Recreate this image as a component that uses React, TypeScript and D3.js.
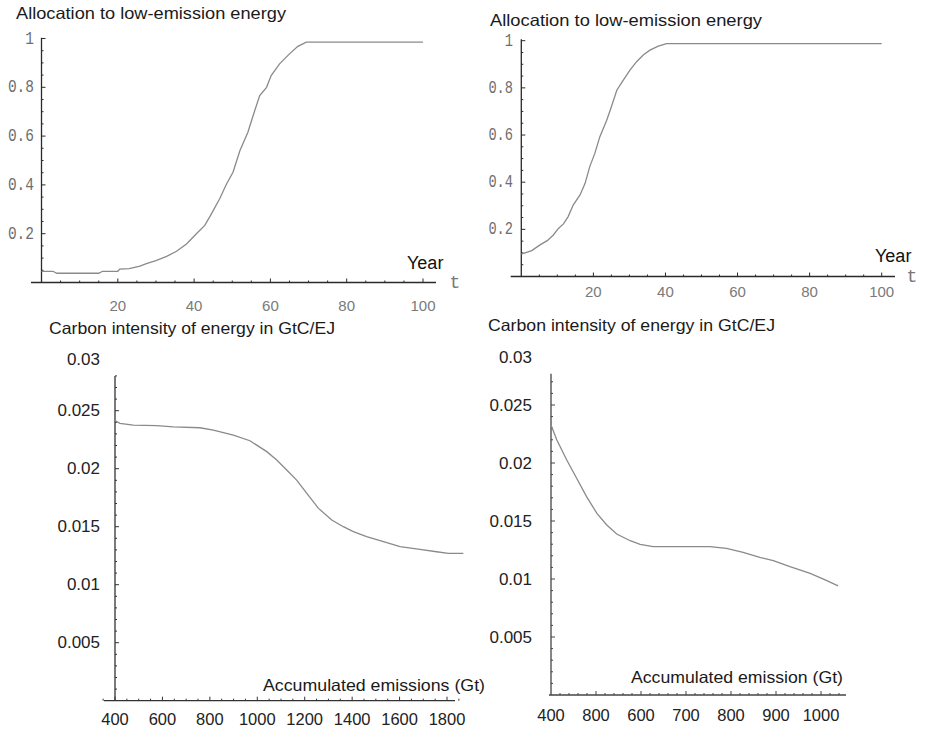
import React from 'react';
import * as d3 from 'd3';

// allocation to low-emission energy, scenario A (left) and B (right)
const allocYearsA = [0, 3, 4, 15, 16, 20, 20.5, 23, 25.8, 27.5, 30, 32.8, 35.4, 38, 40.6, 42.8, 44.5, 46.7, 48.5, 50.2, 52, 54.1, 55.9, 57.2, 59, 60.2, 62.4, 65, 67.2, 69.4, 100];
const allocShareA = [0.046, 0.046, 0.038, 0.038, 0.046, 0.046, 0.055, 0.057, 0.067, 0.077, 0.09, 0.107, 0.128, 0.158, 0.2, 0.234, 0.28, 0.343, 0.404, 0.452, 0.54, 0.616, 0.705, 0.766, 0.8, 0.848, 0.896, 0.937, 0.968, 0.985, 0.985];
const allocYearsB = [0, 2.9, 5.2, 7.2, 8.9, 10.3, 11.7, 13, 14.4, 16.3, 17.7, 19, 20.4, 21.8, 23.7, 25, 26.5, 28.3, 30.2, 32, 33.9, 35.7, 38, 40.3, 100];
const allocShareB = [0.095, 0.11, 0.134, 0.152, 0.176, 0.204, 0.223, 0.254, 0.303, 0.346, 0.395, 0.466, 0.522, 0.593, 0.663, 0.72, 0.79, 0.833, 0.876, 0.911, 0.94, 0.96, 0.977, 0.988, 0.988];

// carbon intensity (GtC/EJ) against accumulated emissions (Gt)
const emisA = [400, 421, 477, 576, 646, 758, 815, 899, 969, 1040, 1082, 1124, 1166, 1209, 1258, 1314, 1363, 1405, 1461, 1518, 1602, 1686, 1756, 1806, 1869];
const intensA = [0.02414, 0.02391, 0.02376, 0.02371, 0.0236, 0.02353, 0.02333, 0.0229, 0.02241, 0.02147, 0.02075, 0.01989, 0.01902, 0.01787, 0.01658, 0.01557, 0.015, 0.01457, 0.01414, 0.01379, 0.01328, 0.01305, 0.01284, 0.0127, 0.0127];
const emisB = [400, 413, 435, 457, 479, 502, 524, 546, 576, 598, 627, 664, 753, 790, 827, 864, 894, 931, 976, 1013, 1038];
const intensB = [0.02328, 0.02198, 0.02026, 0.01868, 0.0171, 0.01566, 0.01466, 0.01388, 0.0133, 0.01299, 0.01279, 0.01279, 0.01279, 0.01264, 0.0123, 0.01187, 0.01158, 0.01106, 0.01049, 0.00986, 0.0094];

// tick labels
const yearTicks = [20, 40, 60, 80, 100];
const shareTicks = [0.2, 0.4, 0.6, 0.8, 1];
const emisTicksA = [400, 600, 800, 1000, 1200, 1400, 1600, 1800];
const emisTicksB = [400, 500, 600, 700, 800, 900, 1000];
const emisTickLabelsB = ['400', '800', '600', '700', '800', '900', '1000'];
const intensTicks = [0.005, 0.01, 0.015, 0.02, 0.025, 0.03];

const SANS = 'Liberation Sans, Arial, sans-serif';
const MONO = 'Liberation Mono, Courier New, monospace';

type Props = {
  xs: number[];
  ys: number[];
  xDomain: [number, number];
  xRange: [number, number];
  yDomain: [number, number];
  yRange: [number, number];
  xAxisPx: [number, number];
  yAxisTop: number;
  minorX: [number, number, number];
  majorX: number[];
  minorY: [number, number, number];
  majorY: number[];
  xTicks: number[];
  xTickLabels: string[];
  xLabelY: number;
  xLabelStyle: React.CSSProperties;
  yTicks: number[];
  yTickLabels: string[];
  yLabelX: number;
  yLabelStyle: React.CSSProperties;
  yCharWidth?: number;
  axisColor: string;
  title: string;
  titlePos: [number, number, number];
  children?: React.ReactNode;
};

function Panel(p: Props) {
  const x = d3.scaleLinear().domain(p.xDomain).range(p.xRange);
  const y = d3.scaleLinear().domain(p.yDomain).range(p.yRange);
  const line = d3.line<number>()
    .x((_, i) => x(p.xs[i]))
    .y(d => y(d));
  const y0 = y(0);
  const x0 = x(p.xDomain[0]);
  const minorX = d3.range(p.minorX[0], p.minorX[1] + 1e-9, p.minorX[2]);
  const minorY = d3.range(p.minorY[0], p.minorY[1] + 1e-9, p.minorY[2]);
  const top = y(p.yAxisTop);
  const isMajor = (list: number[], v: number) => list.some(m => Math.abs(m - v) < 1e-9);

  return (
    <g>
      <text x={p.titlePos[0]} y={p.titlePos[1]} fontFamily={SANS} fontSize={16.5} fill="#1a1a1a"
        textLength={p.titlePos[2]} lengthAdjust="spacingAndGlyphs">{p.title}</text>

      {/* axes */}
      <line x1={p.xAxisPx[0]} x2={p.xAxisPx[1]} y1={y0} y2={y0} stroke={p.axisColor} strokeWidth={1.3} />
      <line x1={x0} x2={x0} y1={y0} y2={top} stroke={p.axisColor} strokeWidth={1.3} />

      {minorX.map(v => (
        <line key={'mx' + v} x1={x(v)} x2={x(v)} y1={y0} y2={y0 - (isMajor(p.majorX, v) ? 4 : 2)}
          stroke={p.axisColor} strokeWidth={1} />
      ))}
      {minorY.map(v => (
        <line key={'my' + v} x1={x0} x2={x0 + (isMajor(p.majorY, v) ? 4 : 2)} y1={y(v)} y2={y(v)}
          stroke={p.axisColor} strokeWidth={1} />
      ))}

      {p.xTicks.map((v, i) => (
        <text key={'xl' + i} x={x(v)} y={p.xLabelY} textAnchor="middle" dominantBaseline="central" style={p.xLabelStyle}>
          {p.xTickLabels[i]}
        </text>
      ))}
      {p.yTicks.map((v, i) => {
        const s = p.yTickLabels[i];
        const fit = p.yCharWidth ? { textLength: s.length * p.yCharWidth, lengthAdjust: 'spacingAndGlyphs' } : {};
        return (
          <text key={'yl' + i} x={p.yLabelX} y={Math.max(y(v), top - 16)} textAnchor="end" dominantBaseline="central"
            style={p.yLabelStyle} {...fit}>
            {s}
          </text>
        );
      })}

      <path d={line(p.ys) ?? ''} fill="none" stroke="#8a8a8a" strokeWidth={1.3} />
      {p.children}
    </g>
  );
}

export default function App() {
  const topX: React.CSSProperties = { fontFamily: SANS, fontSize: 15, fill: '#7a7a7a' };
  const topY: React.CSSProperties = { fontFamily: MONO, fontSize: 18, fill: '#6e6e6e' };
  const botX: React.CSSProperties = { fontFamily: SANS, fontSize: 16.5, fill: '#222' };
  const botY: React.CSSProperties = { fontFamily: SANS, fontSize: 17, fill: '#222' };
  const fmt = d3.format('~g');

  return (
    <svg width={925} height={730} style={{ position: 'absolute', left: 0, top: 0, background: '#fff' }}>
      <Panel
        xs={allocYearsA} ys={allocShareA}
        xDomain={[0, 100]} xRange={[41.5, 423]}
        yDomain={[0, 1]} yRange={[282.5, 38.5]}
        xAxisPx={[31, 436]} yAxisTop={1.003}
        minorX={[5, 100, 5]} majorX={yearTicks}
        minorY={[0.05, 1, 0.05]} majorY={shareTicks}
        xTicks={yearTicks} xTickLabels={yearTicks.map(String)} xLabelY={305} xLabelStyle={topX}
        yTicks={shareTicks} yTickLabels={shareTicks.map(fmt)} yLabelX={34} yLabelStyle={topY} yCharWidth={8.7}
        axisColor="#2a2a2a"
        title="Allocation to low-emission energy" titlePos={[16, 18.5, 270]}
      >
        <text x={407} y={268.5} fontFamily={SANS} fontSize={18} fill="#111">Year</text>
        <text x={455} y={283} textAnchor="middle" dominantBaseline="central" fontFamily={MONO} fontSize={18} fill="#777">t</text>
      </Panel>

      <Panel
        xs={allocYearsB} ys={allocShareB}
        xDomain={[0, 100]} xRange={[521.3, 881.7]}
        yDomain={[0, 1]} yRange={[276.5, 40.7]}
        xAxisPx={[510.7, 895]} yAxisTop={1.006}
        minorX={[5, 100, 5]} majorX={yearTicks}
        minorY={[0.05, 1, 0.05]} majorY={shareTicks}
        xTicks={yearTicks} xTickLabels={yearTicks.map(String)} xLabelY={291} xLabelStyle={topX}
        yTicks={shareTicks} yTickLabels={shareTicks.map(fmt)} yLabelX={513} yLabelStyle={topY} yCharWidth={8.2}
        axisColor="#2a2a2a"
        title="Allocation to low-emission energy" titlePos={[490, 26, 272]}
      >
        <text x={875} y={262} fontFamily={SANS} fontSize={18} fill="#111">Year</text>
        <text x={912} y={277} textAnchor="middle" dominantBaseline="central" fontFamily={MONO} fontSize={18} fill="#777">t</text>
      </Panel>

      <Panel
        xs={emisA} ys={intensA}
        xDomain={[400, 1800]} xRange={[115, 447]}
        yDomain={[0, 0.03]} yRange={[700.7, 352.7]}
        xAxisPx={[104, 455]} yAxisTop={0.028}
        minorX={[350, 1850, 50]} majorX={emisTicksA}
        minorY={[0.001, 0.028, 0.001]} majorY={intensTicks}
        xTicks={emisTicksA} xTickLabels={emisTicksA.map(String)} xLabelY={719} xLabelStyle={botX}
        yTicks={intensTicks} yTickLabels={intensTicks.map(fmt)} yLabelX={100} yLabelStyle={botY}
        axisColor="#333"
        title="Carbon intensity of energy in GtC/EJ" titlePos={[49, 334, 286]}
      >
        <text x={263} y={690.5} fontFamily={SANS} fontSize={16.5} fill="#1a1a1a" textLength={222} lengthAdjust="spacingAndGlyphs">
          Accumulated emissions (Gt)
        </text>
      </Panel>

      <Panel
        xs={emisB} ys={intensB}
        xDomain={[400, 1000]} xRange={[551, 821]}
        yDomain={[0, 0.03]} yRange={[695, 347]}
        xAxisPx={[549, 846]} yAxisTop={0.0277}
        minorX={[420, 1040, 20]} majorX={emisTicksB}
        minorY={[0.001, 0.027, 0.001]} majorY={intensTicks}
        xTicks={emisTicksB} xTickLabels={emisTickLabelsB} xLabelY={715} xLabelStyle={botX}
        yTicks={intensTicks} yTickLabels={intensTicks.map(fmt)} yLabelX={532} yLabelStyle={botY}
        axisColor="#444"
        title="Carbon intensity of energy in GtC/EJ" titlePos={[488, 331, 287]}
      >
        <text x={631} y={682.5} fontFamily={SANS} fontSize={16.5} fill="#1a1a1a" textLength={212} lengthAdjust="spacingAndGlyphs">
          Accumulated emission (Gt)
        </text>
      </Panel>
    </svg>
  );
}
